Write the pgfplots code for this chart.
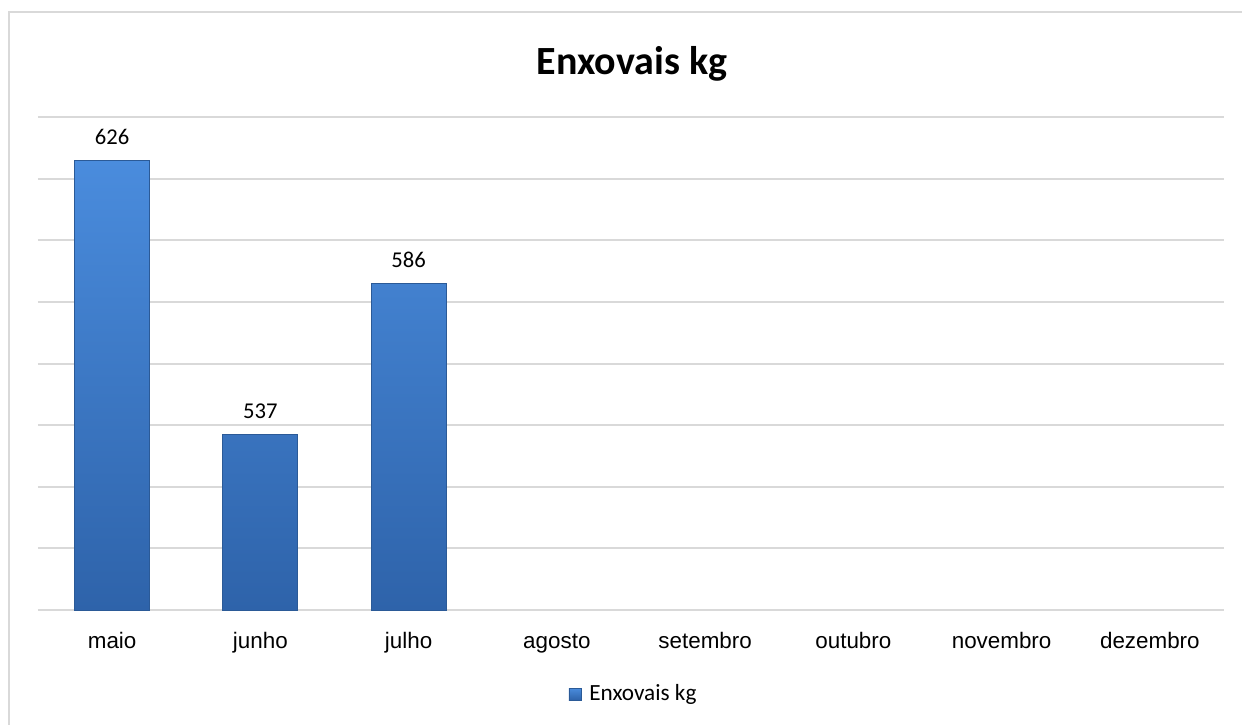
\documentclass[border=0pt]{standalone}
\usepackage{pgfplots}
\pgfplotsset{compat=1.18}
\usepackage{fontspec}
\setmainfont{Carlito}
\newfontfamily\arialf{Liberation Sans}
\definecolor{gridc}{HTML}{D9D9D9}
\definecolor{bartop}{HTML}{4A8CDD}
\definecolor{barbot}{HTML}{2E63AA}
\definecolor{baredge}{HTML}{2B5A97}
\begin{document}
\begin{tikzpicture}
\useasboundingbox (0,0) rectangle (621pt,362pt);
\draw[gridc, line width=1pt] (4.25pt,-10pt) -- (4.25pt,355.75pt) -- (650pt,355.75pt);
\node[anchor=base, inner sep=0pt, font=\fontsize{20}{24}\selectfont\bfseries] at (316pt,324.5pt) {Enxovais kg};
\begin{axis}[
  at={(19pt,57pt)}, anchor=south west,
  scale only axis, width=593pt, height=246.5pt,
  xmin=-0.5, xmax=7.5, ymin=480, ymax=640,
  axis x line*=bottom, axis y line*=left,
  x axis line style={gridc, line width=1pt, -},
  y axis line style={draw=none, -},
  xtick={0,...,7},
  xticklabels={maio,junho,julho,agosto,setembro,outubro,novembro,dezembro},
  xticklabel style={anchor=base, inner sep=0pt, yshift=-19pt, font=\fontsize{11.2}{13}\selectfont\arialf},
  major tick length=0pt,
  ytick={480,500,...,640}, yticklabels={},
  ymajorgrids, grid style={gridc, line width=1pt},
  ybar, bar width=37.5pt, bar shift=0pt,
  nodes near coords,
  /pgf/number format/assume math mode=true,
  nodes near coords style={anchor=south, inner sep=0pt, yshift=7.5pt, font=\fontsize{11.3}{13}\selectfont, text=black},
  legend style={at={(0.503,-0.1704)}, anchor=center, draw=none, fill=none, font=\fontsize{11.6}{13}\selectfont, column sep=2pt},
  legend image code/.code={\shade[top color=bartop, bottom color=barbot, draw=baredge, line width=0.3pt] (0pt,-3pt) rectangle (6pt,3pt);},
  clip=false,
]
\addplot[top color=bartop, bottom color=barbot, draw=baredge, line width=0.5pt] coordinates {(0,626) (1,537) (2,586)};
\addlegendentry{Enxovais kg}
\end{axis}
\end{tikzpicture}
\end{document}
